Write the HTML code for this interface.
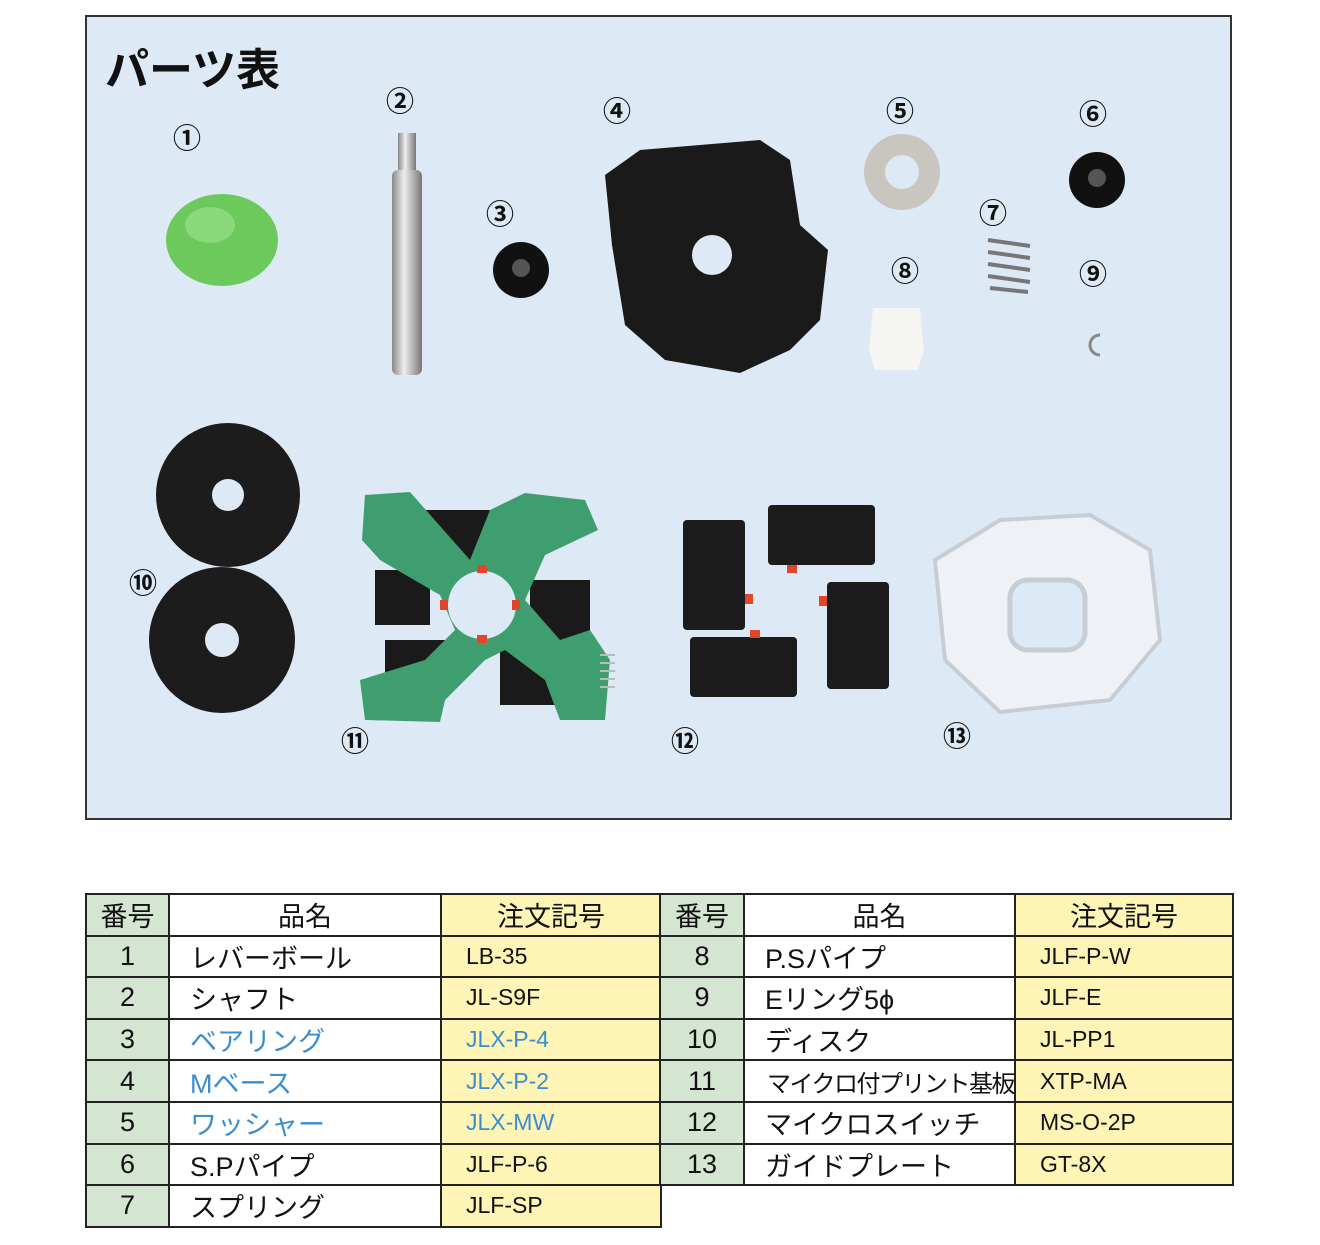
<!DOCTYPE html>
<html><head><meta charset="utf-8"><style>
body{margin:0;width:1320px;height:1245px;background:#fff;position:relative;font-family:"Liberation Sans","Noto Sans CJK JP",sans-serif;overflow:hidden}
#panel{position:absolute;left:85px;top:15px;width:1143px;height:801px;background:#dde9f5;border:2.5px solid #333}
.t{position:absolute;font-weight:bold;color:#111}
.n{position:absolute;font-size:28px;font-weight:bold;color:#111;transform:translate(-50%,-50%)}
table{position:absolute;border-collapse:collapse;font-family:"Liberation Sans","Noto Sans CJK JP",sans-serif;table-layout:fixed}
td{border:2px solid #222;height:39.6px;padding:0;font-size:27px;color:#111;white-space:nowrap;overflow:hidden}
td.g{background:#d4e6d2;text-align:center;width:81px}
td.w{background:#fff;padding-left:20px;width:250px}
td.y{background:#fdf4b6;padding-left:24px;width:195px;font-size:23px}
tr.h td{text-align:center;padding-left:0}
.b{color:#3a8ed0}
</style></head><body>
<div id="panel"></div>
<div class="t" style="left:105px;top:34px;font-size:44px">パーツ表</div>
<svg style="position:absolute;left:0;top:0" width="1320" height="830">
<defs><linearGradient id="sh" x1="0" x2="1"><stop offset="0" stop-color="#888"/><stop offset=".4" stop-color="#eee"/><stop offset="1" stop-color="#777"/></linearGradient></defs>
<ellipse cx="222" cy="240" rx="56" ry="46" fill="#6cc95c"/>
<ellipse cx="210" cy="225" rx="25" ry="18" fill="#8ad97a"/>
<rect x="398" y="133" width="18" height="40" fill="url(#sh)"/>
<rect x="392" y="170" width="30" height="205" rx="6" fill="url(#sh)"/>
<circle cx="521" cy="270" r="28" fill="#111"/><circle cx="521" cy="268" r="9" fill="#555"/>
<path d="M640 150 L760 140 L790 160 L800 225 L828 250 L820 320 L790 350 L740 373 L665 360 L625 325 L612 245 L605 175 Z" fill="#1a1a1a"/>
<circle cx="712" cy="255" r="20" fill="#dde9f5"/>
<circle cx="902" cy="172" r="38" fill="#c9c6c0"/><circle cx="902" cy="172" r="17" fill="#dde9f5"/>
<circle cx="1097" cy="180" r="28" fill="#111"/><circle cx="1097" cy="178" r="9" fill="#555"/>
<g stroke="#777" stroke-width="4" fill="none"><path d="M988 240 L1030 246 M988 252 L1030 258 M988 264 L1030 270 M988 276 L1030 282 M990 288 L1028 292"/></g>
<path d="M873 308 L920 308 L924 350 L918 370 L875 370 L869 350 Z" fill="#f5f5f2"/>
<path d="M1100 335 A10 10 0 1 0 1100 355" stroke="#888" stroke-width="3" fill="none"/>
<circle cx="228" cy="495" r="72" fill="#1c1c1c"/><circle cx="228" cy="495" r="16" fill="#dde9f5"/>
<circle cx="222" cy="640" r="73" fill="#1c1c1c"/><circle cx="222" cy="640" r="17" fill="#dde9f5"/>
<g fill="#1a1a1a"><rect x="415" y="510" width="40" height="60"/><rect x="455" y="510" width="70" height="50"/><rect x="375" y="570" width="55" height="55"/><rect x="530" y="580" width="60" height="60"/><rect x="385" y="640" width="60" height="60"/><rect x="500" y="650" width="55" height="55"/></g>
<path d="M365 495 L410 492 L470 560 L490 510 L525 493 L585 500 L598 530 L545 555 L525 600 L560 640 L590 630 L610 660 L605 720 L560 720 L545 680 L505 650 L485 660 L445 700 L440 722 L365 720 L360 680 L425 660 L455 630 L440 595 L380 560 L362 540 Z" fill="#3f9e70"/>
<circle cx="482" cy="605" r="34" fill="#dde9f5"/>
<g fill="#e0472a"><rect x="477" y="565" width="10" height="8"/><rect x="477" y="635" width="10" height="8"/><rect x="440" y="600" width="8" height="10"/><rect x="512" y="600" width="8" height="10"/></g>
<g stroke="#bbb" stroke-width="2"><path d="M600 655 H615 M600 663 H615 M600 671 H615 M600 679 H615 M600 687 H615"/></g>
<g fill="#1c1c1c"><rect x="683" y="520" width="62" height="110" rx="4"/><rect x="768" y="505" width="107" height="60" rx="4"/><rect x="827" y="582" width="62" height="107" rx="4"/><rect x="690" y="637" width="107" height="60" rx="4"/></g>
<g fill="#e0472a"><rect x="745" y="594" width="8" height="10"/><rect x="787" y="565" width="10" height="8"/><rect x="819" y="596" width="8" height="10"/><rect x="750" y="630" width="10" height="8"/></g>
<path d="M1000 520 L1090 515 L1150 550 L1160 640 L1110 700 L1000 712 L945 660 L935 560 Z" fill="#eef2f6" stroke="#c8cdd3" stroke-width="4"/>
<rect x="1010" y="580" width="75" height="70" rx="18" fill="#dde9f5" stroke="#c8cdd3" stroke-width="5"/>
</svg>
<div class="n" style="left:187px;top:137px">①</div>
<div class="n" style="left:400px;top:100px">②</div>
<div class="n" style="left:500px;top:213px">③</div>
<div class="n" style="left:617px;top:110px">④</div>
<div class="n" style="left:900px;top:110px">⑤</div>
<div class="n" style="left:1093px;top:113px">⑥</div>
<div class="n" style="left:993px;top:212px">⑦</div>
<div class="n" style="left:905px;top:270px">⑧</div>
<div class="n" style="left:1093px;top:273px">⑨</div>
<div class="n" style="left:143px;top:582px">⑩</div>
<div class="n" style="left:355px;top:740px">⑪</div>
<div class="n" style="left:685px;top:740px">⑫</div>
<div class="n" style="left:957px;top:735px">⑬</div>
<table style="left:85px;top:893px;width:575px">
<colgroup><col style="width:83px"><col style="width:272px"><col style="width:220px"></colgroup>
<tr class="h"><td class="g">番号</td><td class="w">品名</td><td class="y" style="font-size:27px">注文記号</td></tr>
<tr><td class="g">1</td><td class="w">レバーボール</td><td class="y">LB-35</td></tr>
<tr><td class="g">2</td><td class="w">シャフト</td><td class="y">JL-S9F</td></tr>
<tr><td class="g">3</td><td class="w b">ベアリング</td><td class="y b">JLX-P-4</td></tr>
<tr><td class="g">4</td><td class="w b">Mベース</td><td class="y b">JLX-P-2</td></tr>
<tr><td class="g">5</td><td class="w b">ワッシャー</td><td class="y b">JLX-MW</td></tr>
<tr><td class="g">6</td><td class="w">S.Pパイプ</td><td class="y">JLF-P-6</td></tr>
<tr><td class="g">7</td><td class="w">スプリング</td><td class="y">JLF-SP</td></tr>
</table>
<table style="left:659px;top:893px;width:573px">
<colgroup><col style="width:84px"><col style="width:271px"><col style="width:218px"></colgroup>
<tr class="h"><td class="g">番号</td><td class="w">品名</td><td class="y" style="font-size:27px">注文記号</td></tr>
<tr><td class="g">8</td><td class="w">P.Sパイプ</td><td class="y">JLF-P-W</td></tr>
<tr><td class="g">9</td><td class="w">Eリング5ϕ</td><td class="y">JLF-E</td></tr>
<tr><td class="g">10</td><td class="w">ディスク</td><td class="y">JL-PP1</td></tr>
<tr><td class="g">11</td><td class="w" style="padding-left:22px;font-size:24px;letter-spacing:-1.5px">マイクロ付プリント基板</td><td class="y">XTP-MA</td></tr>
<tr><td class="g">12</td><td class="w">マイクロスイッチ</td><td class="y">MS-O-2P</td></tr>
<tr><td class="g">13</td><td class="w">ガイドプレート</td><td class="y">GT-8X</td></tr>
</table>
</body></html>
